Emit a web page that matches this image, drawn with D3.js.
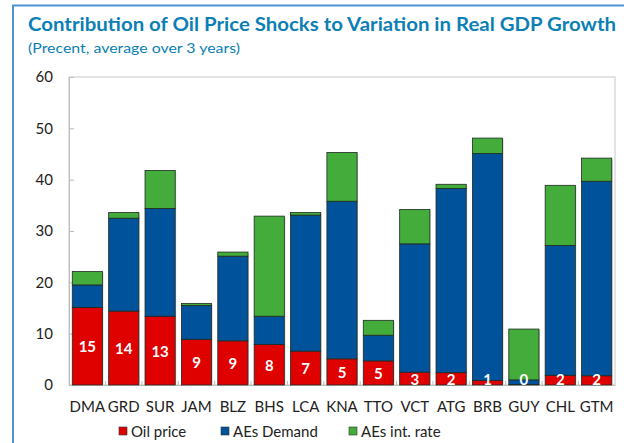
<!DOCTYPE html>
<html>
<head>
<meta charset="utf-8">
<script src="https://cdn.jsdelivr.net/npm/d3@7"></script>
<style>
  body { margin: 0; background: #fff; }
  svg { display: block; font-family: Lato, "Open Sans", sans-serif; }
</style>
</head>
<body>
<div id="chart"></div>
<script>
// chart size
const WIDTH = 624;
const HEIGHT = 443;

// data
const countries = ["DMA", "GRD", "SUR", "JAM", "BLZ", "BHS", "LCA", "KNA", "TTO", "VCT", "ATG", "BRB", "GUY", "CHL", "GTM"];
const oilPrice  = [15.1, 14.4, 13.4, 8.9, 8.6, 7.9, 6.6, 5.1, 4.7, 2.5, 2.4, 0.9, 0.1, 1.9, 1.8];
const aesDemand = [4.4, 18.1, 21.0, 6.6, 16.5, 5.5, 26.5, 30.7, 5.0, 25.0, 35.9, 44.2, 0.9, 25.3, 37.9];
const aesRate   = [2.6, 1.1, 7.4, 0.4, 0.8, 19.5, 0.5, 9.5, 2.9, 6.7, 0.8, 3.0, 9.9, 11.7, 4.5];
const seriesNames = ["Oil price", "AEs Demand", "AEs int. rate"];
const yTicks = [0, 10, 20, 30, 40, 50, 60];

const colors = ["#DF0000", "#00529B", "#43AC3B"];

const margin = {top: 77, right: 9, bottom: 58, left: 69};

const svg = d3.select("#chart").append("svg")
    .attr("width", WIDTH)
    .attr("height", HEIGHT);

// blue frame (top and left edges)
svg.append("line").attr("x1", 12).attr("x2", WIDTH).attr("y1", 5.5).attr("y2", 5.5)
    .attr("stroke", "#4C93D2").attr("stroke-width", 2);
svg.append("line").attr("x1", 13).attr("x2", 13).attr("y1", 5).attr("y2", HEIGHT)
    .attr("stroke", "#4C93D2").attr("stroke-width", 2);

// title + subtitle
svg.append("text")
    .attr("x", 28).attr("y", 31)
    .attr("fill", "#0C7FB5")
    .style("font-weight", "bold")
    .style("font-size", "19px")
    .attr("textLength", 588)
    .attr("lengthAdjust", "spacingAndGlyphs")
    .text("Contribution of Oil Price Shocks to Variation in Real GDP Growth");

svg.append("text")
    .attr("x", 28).attr("y", 53)
    .attr("fill", "#0C7FB5")
    .style("font-size", "14px")
    .attr("textLength", 212)
    .attr("lengthAdjust", "spacingAndGlyphs")
    .text("(Precent, average over 3 years)");

const x = d3.scaleBand()
    .domain(countries)
    .range([margin.left, WIDTH - margin.right])
    .paddingInner(0.17)
    .paddingOuter(0.09);

const y = d3.scaleLinear()
    .domain([0, 60])
    .range([HEIGHT - margin.bottom, margin.top]);

// plot box
svg.append("rect")
    .attr("x", margin.left).attr("y", margin.top)
    .attr("width", WIDTH - margin.right - margin.left)
    .attr("height", y(0) - margin.top)
    .attr("fill", "none")
    .attr("stroke", "#C8C8C8");

// y axis labels
const yAxis = d3.axisLeft(y).tickValues(yTicks).tickSize(-5).tickPadding(16);
const yg = svg.append("g")
    .attr("transform", `translate(${margin.left},0)`)
    .call(yAxis);
yg.select(".domain").attr("stroke", "#BDBDBD");
yg.selectAll(".tick line").attr("stroke", "#BDBDBD");
yg.selectAll("text").attr("fill", "#222").style("font-size", "15px").style("font-family", "Lato, sans-serif");

// x axis
const xAxis = d3.axisBottom(x).tickSize(0).tickPadding(16);
const xg = svg.append("g")
    .attr("transform", `translate(0,${y(0)})`)
    .call(xAxis);
xg.select(".domain").attr("stroke", "#BDBDBD");
xg.selectAll("text").attr("fill", "#222").style("font-size", "15px").style("font-family", "Lato, sans-serif");
// little separators between categories
xg.selectAll(".sep")
    .data(countries.slice(1))
    .join("line")
    .attr("x1", d => x(d) - x.step() * x.paddingInner() / 2)
    .attr("x2", d => x(d) - x.step() * x.paddingInner() / 2)
    .attr("y1", 0).attr("y2", -4)
    .attr("stroke", "#BDBDBD");

// stacked data
const table = countries.map((c, i) => ({
    country: c,
    "Oil price": oilPrice[i],
    "AEs Demand": aesDemand[i],
    "AEs int. rate": aesRate[i]
}));
const stacked = d3.stack().keys(seriesNames)(table);

// soft shadow behind each whole bar
svg.append("g").selectAll("rect")
    .data(table)
    .join("rect")
    .attr("x", d => x(d.country) + 1)
    .attr("y", d => y(d["Oil price"] + d["AEs Demand"] + d["AEs int. rate"]) + 1)
    .attr("width", x.bandwidth())
    .attr("height", d => y(0) - y(d["Oil price"] + d["AEs Demand"] + d["AEs int. rate"]))
    .attr("fill", "#CFCFCF");

const layers = svg.append("g").selectAll("g")
    .data(stacked)
    .join("g")
    .attr("fill", (d, i) => colors[i]);

layers.selectAll("rect")
    .data(d => d)
    .join("rect")
    .attr("x", d => x(d.data.country))
    .attr("y", d => y(d[1]))
    .attr("width", x.bandwidth())
    .attr("height", d => y(d[0]) - y(d[1]))
    .attr("stroke", "#1E2A22")
    .attr("stroke-width", 0.8);

// value labels in the red segment (kept above the axis for small values)
svg.append("g").selectAll("text")
    .data(table)
    .join("text")
    .attr("x", d => x(d.country) + x.bandwidth() / 2)
    .attr("y", d => Math.min(y(d["Oil price"] / 2), y(0) - 6))
    .attr("text-anchor", "middle")
    .attr("dominant-baseline", "central")
    .attr("fill", "white")
    .style("font-weight", "bold")
    .style("font-size", "15px")
    .text(d => Math.round(d["Oil price"]));

// legend
const legendX = [119, 221, 349];
const legend = svg.append("g").selectAll("g")
    .data(seriesNames)
    .join("g")
    .attr("transform", (d, i) => `translate(${legendX[i]},427)`);
legend.append("rect")
    .attr("width", 8).attr("height", 8)
    .attr("fill", (d, i) => colors[i])
    .attr("stroke", "#333").attr("stroke-width", 0.6);
legend.append("text")
    .attr("x", 12).attr("y", 4)
    .attr("dominant-baseline", "central")
    .attr("fill", "#222")
    .style("font-size", "15px")
    .text(d => d);
</script>
</body>
</html>
